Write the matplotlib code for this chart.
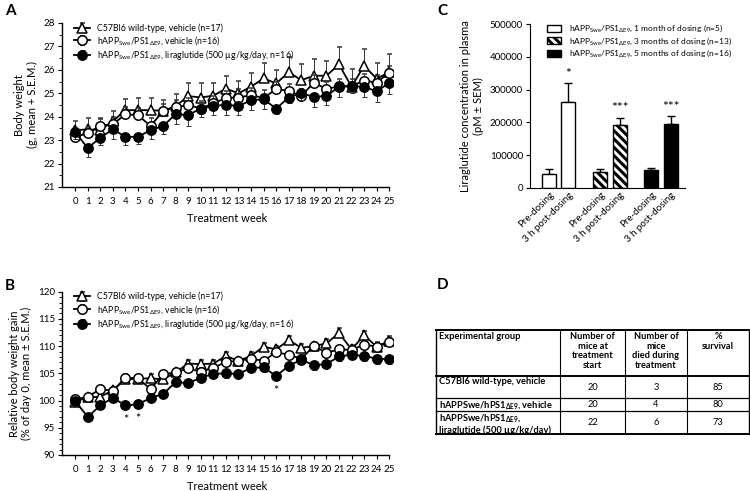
import matplotlib
matplotlib.use("Agg")
import matplotlib.pyplot as plt
from matplotlib.ticker import MultipleLocator
from matplotlib.patches import Patch
import numpy as np

plt.rcParams['font.family'] = ['Lato', 'DejaVu Sans']
plt.rcParams['mathtext.fontset'] = 'custom'
plt.rcParams['mathtext.rm'] = 'Lato'
plt.rcParams['mathtext.it'] = 'Lato:italic'
plt.rcParams['hatch.linewidth'] = 2.2

# ---------------- data ----------------
weeks = list(range(26))

wt_A = [23.42, 23.46, 23.43, 23.81, 24.28, 24.28, 24.28, 24.25, 24.45, 24.88, 24.82, 24.9, 25.2,
        25.0, 25.28, 25.64, 25.42, 25.9, 25.56, 25.75, 25.75, 26.23, 25.28, 26.18, 25.62, 25.9]
wt_A_sem = [0.38, 0.47, 0.52, 0.44, 0.46, 0.52, 0.5, 0.45, 0.52, 0.58, 0.64, 0.56, 0.55,
            0.52, 0.6, 0.64, 0.57, 0.63, 0.67, 0.7, 0.63, 0.73, 0.75, 0.69, 0.68, 0.76]
veh_A = [23.14, 23.29, 23.62, 23.68, 24.1, 24.07, 23.6, 24.25, 24.4, 24.5, 24.35, 24.57, 24.8,
         24.82, 24.92, 24.8, 25.18, 25.1, 24.88, 25.46, 25.18, 25.3, 25.3, 25.54, 25.46, 25.88]
veh_A_sem = [0.2, 0.25, 0.3, 0.3, 0.3, 0.3, 0.35, 0.3, 0.3, 0.3, 0.3, 0.3, 0.3,
             0.35, 0.3, 0.35, 0.3, 0.3, 0.3, 0.3, 0.3, 0.3, 0.3, 0.3, 0.3, 0.3]
lira_A = [23.34, 22.66, 23.11, 23.46, 23.14, 23.14, 23.43, 23.6, 24.11, 24.07, 24.35, 24.45, 24.52,
          24.45, 24.71, 24.74, 24.35, 24.82, 25.0, 24.85, 24.88, 25.28, 25.3, 25.28, 25.08, 25.45]
lira_A_sem = [0.3, 0.4, 0.3, 0.43, 0.35, 0.31, 0.36, 0.32, 0.4, 0.47, 0.35, 0.38, 0.45,
              0.38, 0.41, 0.43, 0.25, 0.25, 0.3, 0.45, 0.38, 0.43, 0.3, 0.45, 0.45, 0.5]

wt_B = [99.8, 100.6, 100.7, 101.9, 103.9, 104.0, 104.1, 103.9, 105.2, 106.8, 106.7, 106.8, 108.2,
        107.3, 108.2, 109.9, 109.4, 111.1, 109.7, 110.0, 110.5, 112.4, 109.4, 112.0, 109.9, 111.0]
wt_B_sem = [0.2, 0.5, 0.6, 0.6, 0.7, 0.6, 0.7, 0.6, 0.6, 0.7, 0.7, 0.7, 0.7,
            0.6, 0.7, 0.7, 0.7, 0.8, 0.7, 0.8, 0.8, 0.9, 0.8, 0.8, 0.8, 0.8]
veh_B = [100.2, 100.7, 102.1, 101.8, 104.2, 104.1, 102.1, 104.8, 105.2, 105.9, 105.3, 106.0, 107.1,
         107.3, 107.7, 107.3, 108.9, 108.4, 107.7, 110.0, 108.8, 109.4, 109.3, 110.3, 109.9, 110.8]
veh_B_sem = [0.3, 0.4, 0.6, 0.6, 0.6, 0.6, 0.6, 0.6, 0.6, 0.6, 0.6, 0.6, 0.6,
             0.6, 0.6, 0.6, 0.6, 0.6, 0.6, 0.6, 0.6, 0.7, 0.7, 0.7, 0.7, 0.7]
lira_B = [99.9, 97.0, 99.1, 100.5, 99.1, 99.3, 100.5, 101.2, 103.4, 103.2, 104.2, 104.9, 105.0,
          104.9, 106.0, 106.1, 104.5, 106.4, 107.5, 106.5, 106.7, 108.1, 108.4, 108.2, 107.7, 107.6]
lira_B_sem = [0.3, 0.4, 0.7, 0.8, 0.6, 0.7, 0.6, 0.7, 0.7, 0.7, 0.7, 0.7, 0.8,
              0.8, 0.8, 0.9, 0.7, 0.8, 0.8, 0.8, 0.8, 0.8, 0.8, 0.9, 0.9, 0.9]
stars_B_weeks = [4, 5, 16]

legend_AB = ["C57Bl6 wild-type, vehicle (n=17)",
             r"hAPP$_{\mathregular{Swe}}$/PS1$_{\mathregular{\Delta E9}}$, vehicle (n=16)",
             r"hAPP$_{\mathregular{Swe}}$/PS1$_{\mathregular{\Delta E9}}$, liraglutide (500 µg/kg/day, n=16)"]

c_groups = [r"hAPP$_{\mathregular{Swe}}$/PS1$_{\mathregular{\Delta E9}}$, 1 month of dosing (n=5)",
            r"hAPP$_{\mathregular{Swe}}$/PS1$_{\mathregular{\Delta E9}}$, 3 months of dosing (n=13)",
            r"hAPP$_{\mathregular{Swe}}$/PS1$_{\mathregular{\Delta E9}}$, 5 months of dosing (n=16)"]
c_pre = [42000, 49000, 53000]
c_pre_sem = [16000, 7000, 8000]
c_post = [263000, 191000, 195000]
c_post_sem = [56000, 21000, 23000]
c_stars = ["*", "***", "***"]
c_ticklabels = ["Pre-dosing", "3 h post-dosing"]

table_header = ["Experimental group", "Number of\nmice at\ntreatment\nstart",
                "Number of\nmice\ndied during\ntreatment", "%\nsurvival"]
table_groups = ["C57Bl6 wild-type, vehicle",
                r"hAPPSwe/hPS1$_{\mathregular{\Delta E9}}$, vehicle",
                "hAPPSwe/hPS1$_{\\mathregular{\\Delta E9}}$,\nliraglutide (500 µg/kg/day)"]
table_start = [20, 20, 22]
table_died = [3, 4, 6]
table_survival = [85, 80, 73]

# ---------------- figure ----------------
fig = plt.figure(figsize=(7.5, 4.91), dpi=100)
W, H = 750, 491

def axrect(x0, y0, x1, y1):
    return [x0 / W, 1 - y1 / H, (x1 - x0) / W, (y1 - y0) / H]

def line_panel(ax, wt, wts, veh, vehs, lira, liras, ylim, ymajor, yminor, ylabel):
    z = np.zeros(len(weeks))
    ax.errorbar(weeks, wt, yerr=[z, wts], color='black', lw=1.3, marker='^', ms=6.5,
                mfc='white', mec='black', mew=1.1, ecolor='#333333', elinewidth=0.7,
                capsize=1.8, capthick=0.7, zorder=2, label=legend_AB[0])
    ax.errorbar(weeks, veh, yerr=[z, vehs], color='black', lw=1.3, marker='o', ms=6.8,
                mfc='white', mec='black', mew=1.1, ecolor='#333333', elinewidth=0.7,
                capsize=1.8, capthick=0.7, zorder=3, label=legend_AB[1])
    ax.errorbar(weeks, lira, yerr=[liras, z], color='black', lw=1.3, marker='o', ms=6.8,
                mfc='black', mec='black', ecolor='#333333', elinewidth=0.7,
                capsize=1.8, capthick=0.7, zorder=4, label=legend_AB[2])
    ax.set_xlim(-1.05, 25.3)
    ax.set_ylim(*ylim)
    ax.spines['top'].set_visible(False)
    ax.spines['right'].set_visible(False)
    ax.spines['bottom'].set_bounds(-1.05, 25)
    ax.set_xticks(weeks)
    ax.set_xticklabels([str(w) for w in weeks])
    ax.yaxis.set_major_locator(MultipleLocator(ymajor))
    ax.yaxis.set_minor_locator(MultipleLocator(yminor))
    ax.tick_params(axis='both', labelsize=7, width=0.8, length=3, pad=2)
    ax.tick_params(axis='y', which='minor', length=2, width=0.6)
    ax.tick_params(axis='x', pad=4)
    ax.set_xlabel("Treatment week", fontsize=8, labelpad=5)
    ax.set_ylabel(ylabel, fontsize=8, labelpad=4)
    for s in ['left', 'bottom']:
        ax.spines[s].set_linewidth(1.0)
    h, l = ax.get_legend_handles_labels()
    ax.legend(h, l, loc='upper left', bbox_to_anchor=(0.025, 1.02), frameon=False,
              fontsize=6.3, handlelength=1.9, labelspacing=0.12, borderaxespad=0,
              handletextpad=0.8)

axA = fig.add_axes(axrect(62, 23, 393, 187))
line_panel(axA, wt_A, wt_A_sem, veh_A, veh_A_sem, lira_A, lira_A_sem, (21, 28), 1, 0.5,
           "Body weight\n(g, mean + S.E.M.)")

axB = fig.add_axes(axrect(62, 291.7, 393, 455))
line_panel(axB, wt_B, wt_B_sem, veh_B, veh_B_sem, lira_B, lira_B_sem, (90, 120), 5, 1,
           "Relative body weight gain\n(% of day 0, mean ± S.E.M.)")
for w in stars_B_weeks:
    axB.text(w, lira_B[w] - lira_B_sem[w] - 0.9, "*", ha='center', va='top', fontsize=9)

# ---------------- panel C ----------------
axC = fig.add_axes(axrect(530, 24.3, 685, 187.7))
fills = ['white', 'white', 'black']
hatches = [None, '\\\\\\\\', None]
pos_pre, pos_post = [], []
for g in range(3):
    p0 = g * 2.62
    pos_pre.append(p0)
    pos_post.append(p0 + 1)
bw = 0.72
for g in range(3):
    for p, v, s in [(pos_pre[g], c_pre[g], c_pre_sem[g]), (pos_post[g], c_post[g], c_post_sem[g])]:
        axC.bar(p, v, width=bw, color=fills[g], edgecolor='black', hatch=hatches[g], lw=1.0, zorder=2)
        axC.errorbar(p, v, yerr=[[0], [s]], color='black', elinewidth=1.0, capsize=3, capthick=1.0, zorder=1)
    axC.text(pos_post[g], c_post[g] + c_post_sem[g] + 12000, c_stars[g], ha='center', va='bottom', fontsize=10)
axC.set_xlim(-0.97, 6.97)
axC.set_ylim(0, 500000)
axC.yaxis.set_major_locator(MultipleLocator(100000))
axC.yaxis.set_major_formatter(matplotlib.ticker.FuncFormatter(lambda v, p: f"{int(v)}"))
axC.set_xticks(pos_pre + pos_post)
axC.set_xticklabels([c_ticklabels[0]] * 3 + [c_ticklabels[1]] * 3, rotation=45, ha='right',
                    rotation_mode='anchor', fontsize=7)
axC.tick_params(axis='x', length=0, pad=2)
axC.tick_params(axis='y', labelsize=7, width=0.8, length=3, pad=2)
axC.spines['top'].set_visible(False)
axC.spines['right'].set_visible(False)
axC.set_ylabel("Liraglutide concentration in plasma\n(pM ± SEM)", fontsize=8, labelpad=4)
handles = [Patch(facecolor=fills[i], edgecolor='black', hatch=hatches[i], lw=1.0) for i in range(3)]
axC.legend(handles, c_groups, loc='upper left', bbox_to_anchor=(0.09, 1.03), frameon=False,
           fontsize=6.0, handlelength=1.7, handleheight=0.9, labelspacing=0.15, borderaxespad=0,
           handletextpad=0.9)

# ---------------- panel D ----------------
axD = fig.add_axes(axrect(436, 330, 749, 434))
axD.set_xlim(436, 749)
axD.set_ylim(434, 330)
axD.axis('off')
col_x = [436, 560, 625, 687, 749]
row_y = [330, 376, 398, 411, 434]
for x in col_x:
    axD.plot([x, x], [row_y[0], row_y[-1]], color='black', lw=1.0 if x in (436, 749) else 0.8, clip_on=False)
for i, y in enumerate(row_y):
    axD.plot([col_x[0], col_x[-1]], [y, y], color='black', lw=1.4 if i in (0, 1, 4) else 0.9, clip_on=False)
fs = 6.7
axD.text(col_x[0] + 3, row_y[0] + 2, table_header[0], ha='left', va='top', fontsize=fs, fontweight='bold')
for j in range(1, 4):
    axD.text((col_x[j] + col_x[j + 1]) / 2, row_y[0] + 2, table_header[j], ha='center', va='top',
             fontsize=fs, linespacing=1.1, fontweight='bold')
for i in range(3):
    y0, y1 = row_y[i + 1], row_y[i + 2]
    axD.text(col_x[0] + 3, y0 + 1.5, table_groups[i], ha='left', va='top', fontsize=fs,
             fontweight='bold', linespacing=1.1)
    for j, vals in enumerate([table_start, table_died, table_survival]):
        axD.text((col_x[j + 1] + col_x[j + 2]) / 2, (y0 + y1) / 2 + 0.5, str(vals[i]),
                 ha='center', va='center', fontsize=fs)

# ---------------- panel letters ----------------
for lab, x, y in [("A", 5, 11), ("B", 5, 286), ("C", 437, 11), ("D", 437, 285)]:
    fig.text(x / W, 1 - y / H, lab, fontsize=11, fontweight='bold', ha='left', va='center')

fig.savefig("out.png", dpi=100)
